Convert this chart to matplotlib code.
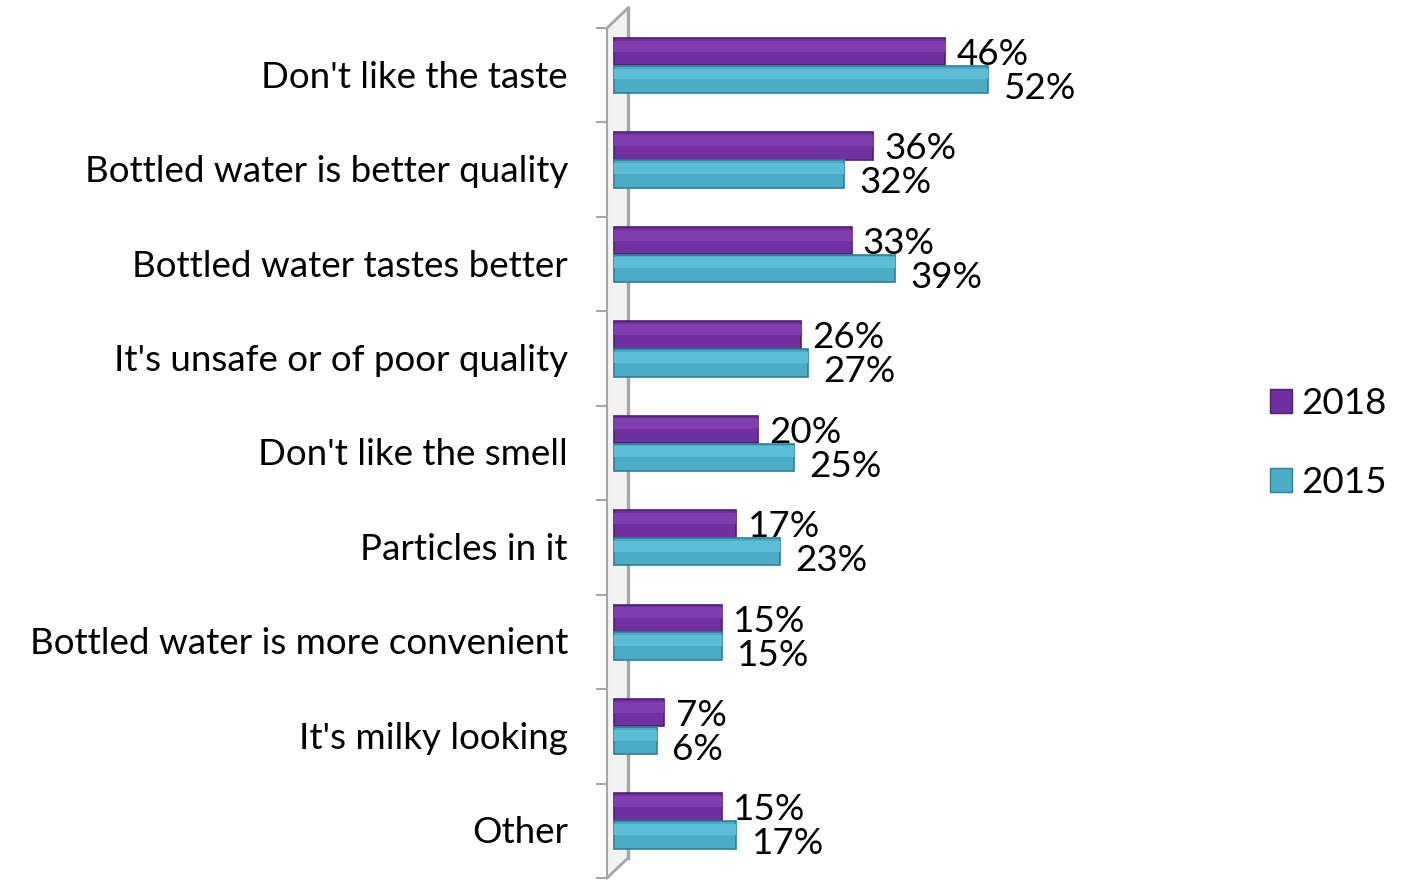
import matplotlib
matplotlib.use("Agg")
import matplotlib.pyplot as plt
from matplotlib.patches import Patch

categories = ["Don't like the taste", "Bottled water is better quality",
              "Bottled water tastes better", "It's unsafe or of poor quality",
              "Don't like the smell", "Particles in it",
              "Bottled water is more convenient", "It's milky looking", "Other"]
years = ["2018", "2015"]
v2018 = [46, 36, 33, 26, 20, 17, 15, 7, 15]
v2015 = [52, 32, 39, 27, 25, 23, 15, 6, 17]

plt.rcParams['font.family'] = ['Lato', 'DejaVu Sans']

purple = "#7030a0"
purple_edge = "#4e1f73"
purple_hi = "#7f3db0"
teal = "#4bacc6"
teal_edge = "#2f7f95"
teal_hi = "#5dbcd6"

fs = 26.5

fig = plt.figure(figsize=(14.02, 8.82), dpi=100)
# axes spans pixels x 590..1230, full height
ax = fig.add_axes([590 / 1402, 0, 640 / 1402, 1])
px = 7.2  # pixels per percent
ax.set_xlim((590 - 614) / px, (1230 - 614) / px)
ax.set_ylim(8.5 + 4 / 94.44, -0.5 - 28 / 94.44)
ax.axis("off")

n = len(categories)
ys = list(range(n))
h = 0.29
off18, off15 = -0.25, 0.045

# 3D wall on the left
fx, bx = (607 - 614) / px, (628 - 614) / px
dy = 20 / 94.44
wall = "#a6a6a6"
ax.fill([fx, bx, bx, fx], [-0.5, -0.5 - dy, 8.5 - dy, 8.5], color="#f2f2f2", zorder=1)
ax.plot([bx, bx], [-0.5 - dy, 8.5 - dy], color=wall, lw=2.5, zorder=1)
ax.plot([fx, fx], [-0.5, 8.5], color=wall, lw=1.5, zorder=1)
ax.plot([fx, bx], [-0.5, -0.5 - dy], color=wall, lw=2, zorder=1)
ax.plot([fx, bx], [8.5, 8.5 - dy], color=wall, lw=2, zorder=1)
for i in range(n + 1):
    ax.plot([(597 - 614) / px, fx], [i - 0.5, i - 0.5], color=wall, lw=1.5, zorder=1)

y18 = [y + off18 for y in ys]
y15 = [y + off15 for y in ys]
ax.barh(y18, v2018, height=h, color=purple, edgecolor=purple_edge, lw=1.2, zorder=3)
ax.barh([y - h * 0.2 for y in y18], v2018, height=h * 0.4, color=purple_hi, lw=0, zorder=4)
ax.barh(y15, v2015, height=h, color=teal, edgecolor=teal_edge, lw=1.2, zorder=3)
ax.barh([y - h * 0.2 for y in y15], v2015, height=h * 0.4, color=teal_hi, lw=0, zorder=4)

for y, v in zip(ys, v2018):
    ax.annotate(f"{v}%", (v, y - 0.22), xytext=(8, 0), textcoords="offset points",
                va="center", ha="left", fontsize=fs, zorder=5)
for y, v in zip(ys, v2015):
    ax.annotate(f"{v}%", (v, y + 0.14), xytext=(11, 0), textcoords="offset points",
                va="center", ha="left", fontsize=fs, zorder=5)

for y, c in zip(ys, categories):
    ax.text((568 - 614) / px, y + 0.02, c, ha="right", va="center", fontsize=fs)

handles = [Patch(facecolor=purple, edgecolor=purple_edge),
           Patch(facecolor=teal, edgecolor=teal_edge)]
fig.legend(handles, years, loc="center left", bbox_to_anchor=(1270 / 1402, 1 - 443 / 882),
           frameon=False, fontsize=fs, handlelength=0.6, handleheight=0.6,
           handletextpad=0.25, labelspacing=1.25, borderaxespad=0, borderpad=0)

fig.savefig("out.png", dpi=100)
